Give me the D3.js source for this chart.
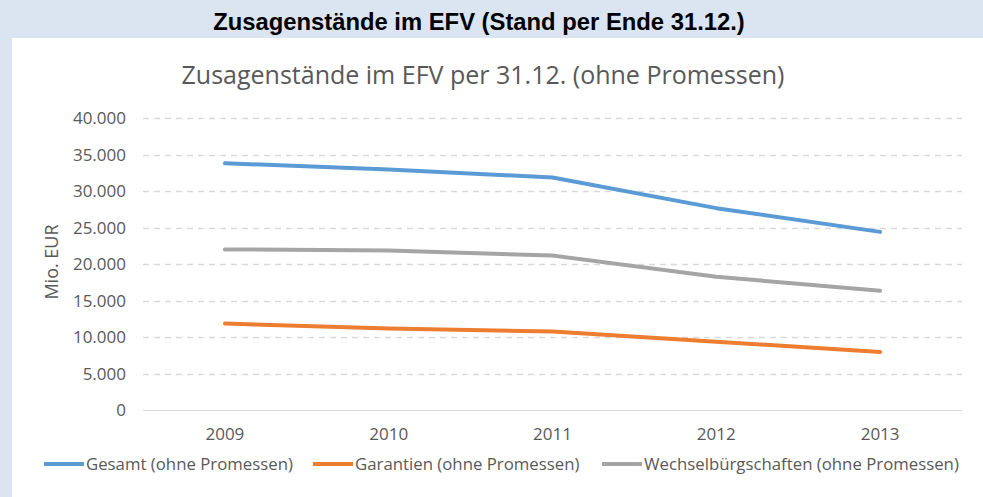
<!DOCTYPE html>
<html>
<head>
<meta charset="utf-8">
<script src="https://cdn.jsdelivr.net/npm/d3@7"></script>
<style>
  body { margin: 0; background: #dbe5f1; }
  svg { display: block; }
</style>
</head>
<body>
<script>
const width = 983;
const height = 497;

// Daten (Mio. EUR, Stand 31.12.)
const years = ["2009", "2010", "2011", "2012", "2013"];
const gesamt = [33800, 32950, 31850, 27650, 24400];
const garantien = [11850, 11150, 10750, 9350, 7950];
const wechsel = [22000, 21850, 21150, 18250, 16350];
const seriesNames = ["Gesamt (ohne Promessen)", "Garantien (ohne Promessen)", "Wechselbürgschaften (ohne Promessen)"];
const seriesColors = ["#5b9bd5", "#ed7d31", "#a5a5a5"];
const yTicks = [0, 5000, 10000, 15000, 20000, 25000, 30000, 35000, 40000];

const series = [gesamt, garantien, wechsel];

const de = d3.formatLocale({ decimal: ",", thousands: ".", grouping: [3], currency: ["", " €"] });
const fmt = de.format(",");

let svg = d3.select("body").append("svg")
    .attr("width", width)
    .attr("height", height);

// Kopfzeile
svg.append("text")
    .attr("x", 479)
    .attr("y", 30)
    .attr("text-anchor", "middle")
    .attr("font-family", "'Liberation Sans', Arial, sans-serif")
    .attr("font-weight", "bold")
    .attr("font-size", 23.8)
    .attr("fill", "#000")
    .text("Zusagenstände im EFV (Stand per Ende 31.12.)");

// weisses Diagrammfeld
svg.append("rect")
    .attr("x", 12)
    .attr("y", 38)
    .attr("width", width - 12)
    .attr("height", height - 38)
    .attr("fill", "#fff");

const margin = { left: 143, right: 21 };

let x = d3.scaleBand()
    .domain(years)
    .range([margin.left, width - margin.right]);

let y = d3.scaleLinear()
    .domain([0, 40000])
    .range([410, 118]);

const font = "'Open Sans', sans-serif";

// Titel
svg.append("text")
    .attr("x", 483)
    .attr("y", 84)
    .attr("text-anchor", "middle")
    .attr("font-family", font)
    .attr("font-size", 25)
    .attr("fill", "#595959")
    .text("Zusagenstände im EFV per 31.12. (ohne Promessen)");

// Gitterlinien
svg.append("g")
    .selectAll("line")
    .data(yTicks.filter(d => d > 0))
    .enter()
    .append("line")
    .attr("x1", margin.left)
    .attr("x2", width - margin.right)
    .attr("y1", d => Math.round(y(d)) + 0.5)
    .attr("y2", d => Math.round(y(d)) + 0.5)
    .attr("stroke", "#d9d9d9")
    .attr("stroke-width", 1.3)
    .attr("stroke-dasharray", "6,5");

// Nulllinie
svg.append("line")
    .attr("x1", margin.left)
    .attr("x2", width - margin.right)
    .attr("y1", y(0) + 0.5)
    .attr("y2", y(0) + 0.5)
    .attr("stroke", "#d9d9d9")
    .attr("stroke-width", 1);

// Y-Achse
let yAxis = svg.append("g")
    .attr("transform", "translate(" + (margin.left - 14) + ",0)")
    .call(d3.axisLeft(y).tickValues(yTicks).tickFormat(fmt).tickSize(0));
yAxis.select(".domain").remove();
yAxis.selectAll("text")
    .attr("font-family", font)
    .attr("font-size", 17)
    .attr("fill", "#595959")
    .attr("dy", "0.35em");

// X-Achse
let xAxis = svg.append("g")
    .attr("transform", "translate(0,425)")
    .call(d3.axisBottom(x).tickSize(0));
xAxis.select(".domain").remove();
xAxis.selectAll("text")
    .attr("font-family", font)
    .attr("font-size", 17)
    .attr("fill", "#595959");

// Achsentitel
svg.append("text")
    .attr("transform", "translate(58,262) rotate(-90)")
    .attr("text-anchor", "middle")
    .attr("font-family", font)
    .attr("font-size", 18)
    .attr("fill", "#595959")
    .text("Mio. EUR");

// Linien
let line = d3.line()
    .x((d, i) => x(years[i]) + x.bandwidth() / 2)
    .y(d => y(d));

svg.append("g")
    .selectAll("path")
    .data(series)
    .enter()
    .append("path")
    .attr("d", line)
    .attr("fill", "none")
    .attr("stroke", (d, i) => seriesColors[i])
    .attr("stroke-width", 4)
    .attr("stroke-linejoin", "round")
    .attr("stroke-linecap", "round");

// Legende
const legendX = [44, 313, 602];
let legend = svg.append("g")
    .selectAll("g")
    .data(seriesNames)
    .enter()
    .append("g")
    .attr("transform", (d, i) => "translate(" + legendX[i] + ",464)");

legend.append("line")
    .attr("x1", 0)
    .attr("x2", 40)
    .attr("stroke", (d, i) => seriesColors[i])
    .attr("stroke-width", 4);

legend.append("text")
    .attr("x", 42)
    .attr("dy", "0.35em")
    .attr("font-family", font)
    .attr("font-size", 16.8)
    .attr("fill", "#595959")
    .text(d => d);
</script>
</body>
</html>
